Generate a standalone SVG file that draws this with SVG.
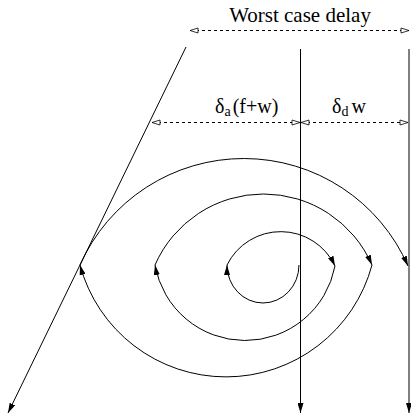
<svg xmlns="http://www.w3.org/2000/svg" width="411" height="417" viewBox="0 0 411 417">
<style>
.ln{fill:none;stroke:#000;stroke-width:1}
.dash{fill:none;stroke:#000;stroke-width:1;stroke-dasharray:3,3}
.lbl{font-family:"Liberation Serif","Times New Roman",serif;fill:#000}
</style>
<defs>
<marker id="ah" viewBox="0 0 10 6" refX="10" refY="3" markerWidth="10" markerHeight="6" markerUnits="userSpaceOnUse" orient="auto">
<path d="M0,0 L10,3 L0,6 z" fill="#000"/>
</marker>
<marker id="dh" viewBox="-1 -1 10 7" refX="8" refY="2.5" markerWidth="10" markerHeight="7" markerUnits="userSpaceOnUse" orient="auto-start-reverse">
<path d="M0,0 L8,2.5 L0,5 z" fill="#fff" stroke="#000" stroke-width="0.8"/>
</marker>
</defs>
<rect width="411" height="417" fill="#fff"/>
<g id="connectors">
<line id="diag" class="ln" x1="186" y1="47" x2="8" y2="413" marker-end="url(#ah)"/>
<line id="v1" class="ln" x1="300.5" y1="49" x2="300.5" y2="413" marker-end="url(#ah)"/>
<line id="v2" class="ln" x1="409" y1="49" x2="409" y2="413" marker-end="url(#ah)"/>
<g id="spiral">
<path class="ln" d="M299,265 A36,38 0 0 1 227,265" marker-end="url(#ah)"/>
<path class="ln" d="M227,265 A60,60 0 0 1 335,266" marker-end="url(#ah)"/>
<path class="ln" d="M335,266 A91.5,91.5 0 0 1 155,265" marker-end="url(#ah)"/>
<path class="ln" d="M155,265 A118.4,118.4 0 0 1 372,265" marker-end="url(#ah)"/>
<path class="ln" d="M372,265 A151.2,151.2 0 0 1 80,265" marker-end="url(#ah)"/>
<path class="ln" d="M80,265 A179.2,179.2 0 0 1 408,266" marker-end="url(#ah)"/>
</g>
<line id="worst" class="dash" x1="190" y1="30.5" x2="409" y2="30.5" marker-start="url(#dh)" marker-end="url(#dh)"/>
<line id="da" class="dash" x1="152" y1="122.5" x2="300" y2="122.5" marker-start="url(#dh)" marker-end="url(#dh)"/>
<line id="dd" class="dash" x1="301" y1="122.5" x2="408" y2="122.5" marker-start="url(#dh)" marker-end="url(#dh)"/>
</g>
<g id="labels">
<text class="lbl" x="300" y="22" font-size="21" text-anchor="middle">Worst case delay</text>
<text class="lbl" x="215" y="113" font-size="20">δ<tspan font-size="14" dy="3">a</tspan><tspan dy="-3" dx="2">(f+w)</tspan></text>
<text class="lbl" x="332" y="113" font-size="20">δ<tspan font-size="14" dy="3">d</tspan><tspan dy="-3" dx="3">w</tspan></text>
</g>
</svg>
